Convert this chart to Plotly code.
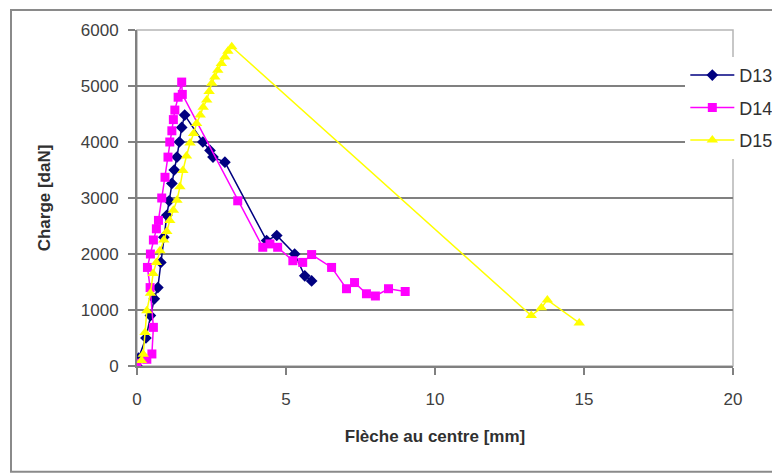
import plotly.graph_objects as go

# D13 (navy diamonds)
d13_x = [0.0, 0.05, 0.3, 0.45, 0.58, 0.7, 0.8, 0.9, 1.0, 1.08, 1.17, 1.25, 1.34, 1.42, 1.5, 1.6,
         2.21, 2.45, 2.55, 2.95, 4.35, 4.69, 5.29, 5.63, 5.86]
d13_y = [0, 140, 500, 900, 1200, 1400, 1850, 2300, 2690, 2950, 3260, 3500, 3730, 4000, 4260, 4480,
         4000, 3850, 3730, 3640, 2240, 2330, 2000, 1610, 1520]

# D14 (magenta squares)
d14_x = [0.0, 0.33, 0.5, 0.55, 0.44, 0.35, 0.45, 0.55, 0.65, 0.72, 0.83, 0.94, 1.04, 1.1, 1.17, 1.22, 1.27,
         1.38, 1.5, 1.52, 3.38, 4.22, 4.46, 4.72, 5.23, 5.56, 5.86, 6.53, 7.03, 7.3, 7.7, 8.0, 8.44, 9.0]
d14_y = [50, 120, 215, 690, 1400, 1760, 2000, 2250, 2450, 2600, 3000, 3370, 3730, 4000, 4200, 4400, 4570,
         4800, 5070, 4850, 2950, 2120, 2180, 2120, 1880, 1850, 1990, 1760, 1380, 1490, 1290, 1250, 1380, 1330]

# D15 (yellow triangles)
d15_x = [0.15, 0.21, 0.27, 0.33, 0.45, 0.54, 0.65, 0.77, 0.9, 1.0, 1.1, 1.22, 1.34, 1.44, 1.54, 1.66, 1.78,
         1.9, 2.0, 2.12, 2.22, 2.34, 2.42, 2.51, 2.61, 2.71, 2.83, 2.95, 3.05, 3.18,
         13.23, 13.57, 13.77, 14.84]
d15_y = [100, 210, 600, 985, 1300, 1650, 1850, 2060, 2250, 2400, 2600, 2780, 2960, 3200, 3490, 3750, 3980,
         4150, 4330, 4480, 4620, 4750, 4900, 5050, 5160, 5280, 5400, 5520, 5620, 5700,
         900, 1040, 1180, 770]

x_ticks = [0, 5, 10, 15, 20]
y_ticks = [0, 1000, 2000, 3000, 4000, 5000, 6000]

FONT = "Liberation Sans, Arial, sans-serif"

fig = go.Figure()
fig.add_trace(go.Scatter(x=d13_x, y=d13_y, name="D13", mode="lines+markers", legendgroup="a",
                         line=dict(color="#000080", width=1.5),
                         marker=dict(symbol="diamond", size=9, color="#000080")))
fig.add_trace(go.Scatter(x=d14_x, y=d14_y, name="D14", mode="lines+markers", legendgroup="b",
                         line=dict(color="#FF00FF", width=1.5),
                         marker=dict(symbol="square", size=9, color="#FF00FF")))
fig.add_trace(go.Scatter(x=d15_x, y=d15_y, name="D15", mode="lines+markers", legendgroup="c",
                         line=dict(color="#FFFF00", width=1.5),
                         marker=dict(symbol="triangle-up", size=10, color="#FFFF00")))

# outer chart frame
fig.add_shape(type="rect", xref="paper", yref="paper",
              x0=-0.2114, x1=1.08, y0=-0.315, y1=1.0595,
              line=dict(color="#8a8a8a", width=2), layer="below")
# plot-area border (top/right)
fig.add_shape(type="rect", xref="paper", yref="paper", x0=0, x1=1, y0=0, y1=1,
              line=dict(color="#b5b5b5", width=1.5), layer="below")

fig.update_layout(
    width=772, height=466,
    margin=dict(l=129, r=47, t=22, b=108, autoexpand=False),
    paper_bgcolor="white", plot_bgcolor="white",
    font=dict(family=FONT, size=17, color="#404040"),
    showlegend=True,
    legend=dict(x=0.92, y=0.92, xanchor="left", yanchor="top",
                bgcolor="white", borderwidth=0, itemwidth=44,
                tracegroupgap=6, font=dict(size=18, color="#303030")),
    xaxis=dict(range=[0, 20], tickvals=x_ticks, ticks="outside", ticklen=7,
               tickcolor="#808080", tickwidth=1.5, showgrid=False, zeroline=False,
               showline=True, linecolor="#808080", linewidth=2, ticklabelstandoff=10,
               title=dict(text="<b>Flèche au centre [mm]</b>", standoff=22,
                          font=dict(size=17, color="#303030"))),
    yaxis=dict(range=[0, 6000], tickvals=y_ticks, ticks="outside", ticklen=7,
               tickcolor="#808080", tickwidth=1.5, showgrid=True, gridcolor="#808080",
               gridwidth=1.5, zeroline=False, ticklabelstandoff=6,
               showline=True, linecolor="#808080", linewidth=2,
               title=dict(text="<b>Charge [daN]</b>", standoff=26,
                          font=dict(size=17, color="#303030"))),
)

fig.write_html("out.html")
